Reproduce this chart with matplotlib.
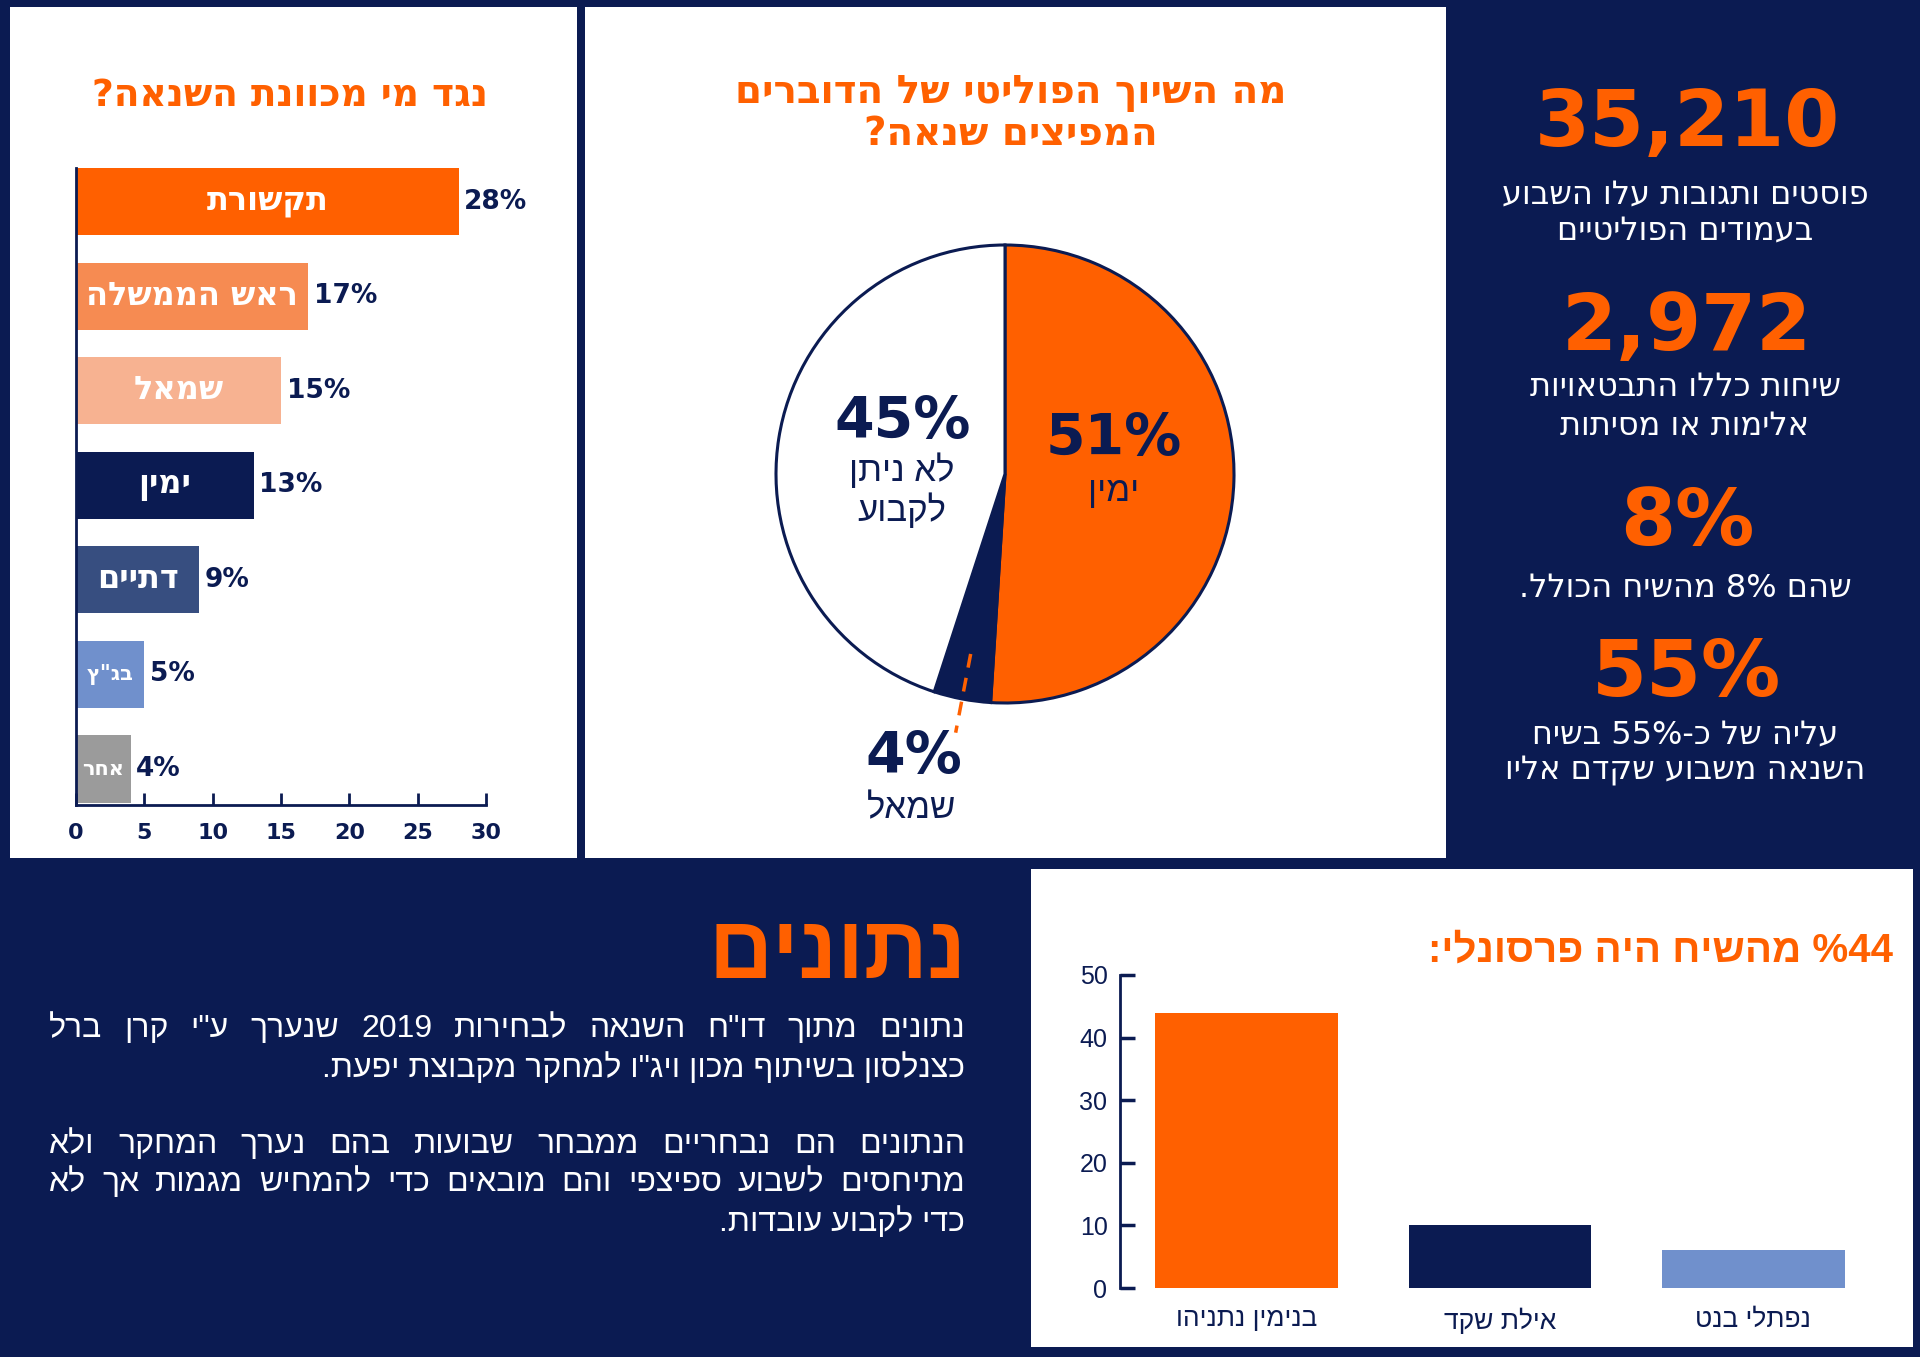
import re
import matplotlib
matplotlib.use('Agg')
import matplotlib.pyplot as plt
from matplotlib.patches import Rectangle
import numpy as np

W, H = 1920, 1357
NAVY = '#0b1b52'
ORANGE = '#ff6000'
LIGHTBLUE = '#7090cc'

# --- data -----------------------------------------------------------
target_cats = ['תקשורת', 'ראש הממשלה', 'שמאל', 'ימין', 'דתיים', 'בג"ץ', 'אחר']
target_vals = [28, 17, 15, 13, 9, 5, 4]
target_colors = [ORANGE, '#f68b52', '#f7b291', NAVY, '#374e80', LIGHTBLUE, '#9b9b9b']
left_xticks = [0, 5, 10, 15, 20, 25, 30]

pie_names = ['ימין', 'שמאל', 'לא ניתן\nלקבוע']
pie_vals = [51, 4, 45]
pie_colors = [ORANGE, NAVY, 'white']

stat_numbers = ['35,210', '2,972', '8%', '55%']
stat_texts = [['פוסטים ותגובות עלו השבוע', 'בעמודים הפוליטיים'],
              ['שיחות כללו התבטאויות', 'אלימות או מסיתות'],
              ['שהם 8% מהשיח הכולל.'],
              ['עליה של כ-55% בשיח', 'השנאה משבוע שקדם אליו']]

people = ['בנימין נתניהו', 'אילת שקד', 'נפתלי בנט']
personal = [44, 10, 6]
people_colors = [ORANGE, NAVY, LIGHTBLUE]
right_yticks = [0, 10, 20, 30, 40, 50]

para1 = ['נתונים מתוך דו"ח השנאה לבחירות 2019 שנערך ע"י קרן ברל',
         'כצנלסון בשיתוף מכון ויג"ו למחקר מקבוצת יפעת.']
para2 = ['הנתונים הם נבחריים ממבחר שבועות בהם נערך המחקר ולא',
         'מתיחסים לשבוע ספיצפי והם מובאים כדי להמחיש מגמות אך לא',
         'כדי לקבוע עובדות.']

HEB = ['Liberation Sans', 'DejaVu Sans']
WIDE = ['DejaVu Sans']


def rtl(s):
    # matplotlib draws left to right: flip hebrew, keep number runs readable
    return re.sub(r'[0-9%]+', lambda m: m.group(0)[::-1], s[::-1])


def fx(px):
    return px / W


def fy(py):
    return 1 - py / H


fig = plt.figure(figsize=(W / 100, H / 100), dpi=100, facecolor=NAVY)


def panel(x0, y0, x1, y1):
    fig.add_artist(Rectangle((fx(x0), fy(y1)), (x1 - x0) / W, (y1 - y0) / H,
                             transform=fig.transFigure, facecolor='white',
                             edgecolor='none', zorder=-1))


def add_ax(x0, y0, x1, y1):
    ax = fig.add_axes([fx(x0), fy(y1), (x1 - x0) / W, (y1 - y0) / H])
    ax.set_facecolor('none')
    return ax


panel(10, 7, 577, 858)
panel(585, 7, 1446, 858)
panel(1031, 869, 1913, 1347)

# --- left: hbar chart ----------------------------------------------
fig.text(fx(290), fy(96), rtl('נגד מי מכוונת השנאה?'), ha='center', va='center',
         color=ORANGE, fontsize=27, fontweight='bold', family=WIDE)

ax = add_ax(76, 168, 486, 805)
ypos = np.arange(len(target_vals))
ax.barh(ypos, target_vals, height=0.71, color=target_colors)
ax.set_xlim(0, 30)
ax.set_ylim(6.38, -0.355)
for s in ['top', 'right']:
    ax.spines[s].set_visible(False)
for s in ['left', 'bottom']:
    ax.spines[s].set_color(NAVY)
    ax.spines[s].set_linewidth(2)
ax.set_yticks([])
ax.set_xticks(left_xticks)
ax.tick_params(axis='x', direction='in', length=9, width=2, colors=NAVY,
               labelsize=16, pad=13)
for lbl in ax.get_xticklabels():
    lbl.set_fontweight('bold')
for i, (c, v) in enumerate(zip(target_cats, target_vals)):
    ax.text(v / 2, i, rtl(c), ha='center', va='center', color='white',
            fontsize=23 if v >= 9 else 15, fontweight='bold', family=WIDE)
    ax.annotate(f'{v}%', (v, i), xytext=(4, 0), textcoords='offset points',
                ha='left', va='center', color=NAVY, fontsize=19, fontweight='bold')

# --- middle: pie ----------------------------------------------------
fig.text(fx(1011), fy(93), rtl('מה השיוך הפוליטי של הדוברים'), ha='center', va='center',
         color=ORANGE, fontsize=28, fontweight='bold', family=WIDE)
fig.text(fx(1011), fy(134), rtl('המפיצים שנאה?'), ha='center', va='center',
         color=ORANGE, fontsize=28, fontweight='bold', family=WIDE)

R = 229
pax = add_ax(1005 - 1.6 * R, 474 - 1.6 * R, 1005 + 1.6 * R, 474 + 1.6 * R)
wedges, _ = pax.pie(pie_vals, colors=pie_colors, startangle=90, counterclock=False,
                    wedgeprops=dict(edgecolor=NAVY, linewidth=2.2))
pax.set_xlim(-1.6, 1.6)
pax.set_ylim(-1.6, 1.6)
pax.set_aspect('equal')
pax.axis('off')

pct_pos = [(0.476, 0.15), (-0.40, -1.24), (-0.449, 0.225)]
name_pos = [(0.476, -0.075), (-0.41, -1.46), (-0.449, -0.07)]
for v, name, p, q in zip(pie_vals, pie_names, pct_pos, name_pos):
    pax.text(p[0], p[1], f'{v}%', ha='center', va='center', color=NAVY,
             fontsize=41, fontweight='bold')
    pax.text(q[0], q[1], '\n'.join(rtl(t) for t in name.split('\n')),
             ha='center', va='center', color=NAVY, fontsize=25, family=HEB,
             linespacing=1.15)

w = wedges[1]
mid = np.deg2rad((w.theta1 + w.theta2) / 2)
rr = np.array([0.8, 1.15])
pax.plot(rr * np.cos(mid), rr * np.sin(mid), color=ORANGE, lw=2.5,
         ls=(0, (4, 3)))

# --- right: stats ---------------------------------------------------
stat_y = [124, 328, 523, 674]
text_y = [[195, 231], [388, 426], [588], [735, 771]]
for num, lines, ny, tys in zip(stat_numbers, stat_texts, stat_y, text_y):
    fig.text(fx(1687), fy(ny), num, ha='center', va='center', color=ORANGE,
             fontsize=57, fontweight='bold', family=WIDE)
    for t, ty in zip(lines, tys):
        fig.text(fx(1685), fy(ty), rtl(t), ha='center', va='center', color='white',
                 fontsize=23, family=WIDE)

# --- bottom left: text block ----------------------------------------
fig.text(fx(967), fy(955), rtl('נתונים'), ha='right', va='center', color=ORANGE,
         fontsize=64, fontweight='bold', family=HEB)

renderer = fig.canvas.get_renderer()


def justified(lines, ys, x_right, x_left):
    kw = dict(va='center', color='white', fontsize=23, family=HEB)
    for k, (line, y) in enumerate(zip(lines, ys)):
        if k == len(lines) - 1:
            fig.text(fx(x_right), fy(y), rtl(line), ha='right', **kw)
            continue
        words = line.split(' ')
        ts = [fig.text(0, fy(y), rtl(wd), ha='right', **kw) for wd in words]
        widths = [t.get_window_extent(renderer).width for t in ts]
        gap = (x_right - x_left - sum(widths)) / (len(words) - 1)
        x = x_right
        for t, wd in zip(ts, widths):
            t.set_x(fx(x))
            x -= wd + gap


justified(para1, [1029, 1068], 965, 49)
justified(para2, [1145, 1183, 1222], 965, 49)

# --- bottom right: vertical bars ------------------------------------
fig.text(fx(1893), fy(951), rtl('%44 מהשיח היה פרסונלי:'), ha='right', va='center',
         color=ORANGE, fontsize=29, fontweight='bold', family=HEB)

bx = add_ax(1120, 975, 1880, 1288)
xpos = np.arange(len(personal))
bx.bar(xpos, personal, width=0.72, color=people_colors)
bx.set_xlim(-0.5, 2.5)
bx.set_ylim(0, 50)
for s in ['top', 'right', 'bottom']:
    bx.spines[s].set_visible(False)
bx.spines['left'].set_color(NAVY)
bx.spines['left'].set_linewidth(2)
bx.set_yticks(right_yticks)
bx.tick_params(axis='y', direction='in', length=11, width=2.5, colors=NAVY,
               labelsize=18, pad=9)
bx.set_xticks(xpos)
bx.set_xticklabels([rtl(p) for p in people], family=HEB)
bx.tick_params(axis='x', length=0, colors=NAVY, labelsize=19, pad=14)
for lbl in bx.get_yticklabels():
    lbl.set_family(HEB)

fig.savefig('out.png', dpi=100, facecolor=NAVY)
